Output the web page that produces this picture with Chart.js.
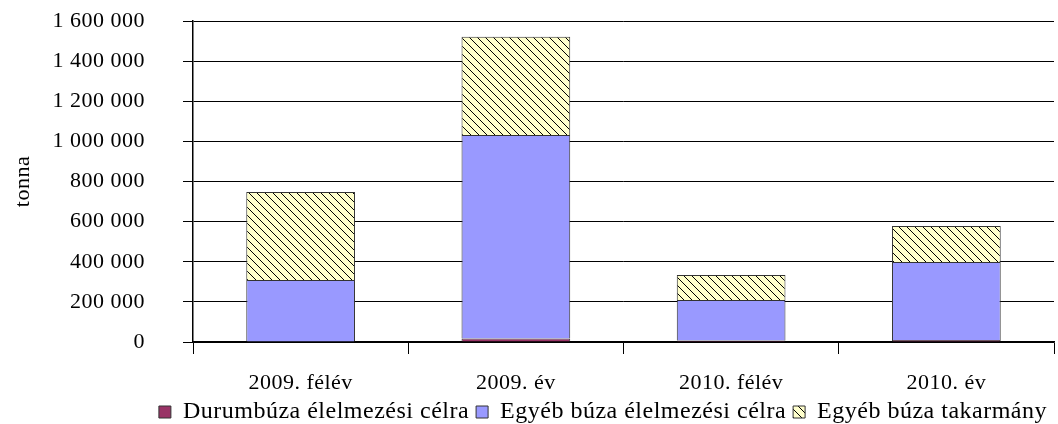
<!DOCTYPE html>
<html>
  <head>
    <meta charset="UTF-8" />
    <title>Búza</title>
    <script src="https://cdn.jsdelivr.net/npm/chart.js"></script>
    <style>
      body {
        margin: 0;
        background: #fff;
      }
      #wrap {
        width: 1058px;
        height: 424px;
      }
    </style>
  </head>
  <body>
    <div id="wrap"><canvas id="chart" width="1058" height="424"></canvas></div>
  </body>
  <script>
    const categories = ["2009. félév", "2009. év", "2010. félév", "2010. év"];
    const seriesNames = [
      "Durumbúza élelmezési célra",
      "Egyéb búza élelmezési célra",
      "Egyéb búza takarmány",
    ];
    const durum = [2000, 17000, 8000, 10000];
    const egyebElelmezes = [307000, 1015000, 201000, 389000];
    const egyebTakarmany = [439000, 489000, 125000, 179000];

    // diagonal hatch for the feed series
    function hatch() {
      const c = document.createElement("canvas");
      c.width = 8;
      c.height = 8;
      const g = c.getContext("2d");
      g.fillStyle = "#FFFFCC";
      g.fillRect(0, 0, 8, 8);
      g.strokeStyle = "#000";
      g.lineWidth = 1;
      g.beginPath();
      g.moveTo(-1, -1);
      g.lineTo(9, 9);
      g.stroke();
      return g.createPattern(c, "repeat");
    }

    const fmt = (v) => String(v).replace(/\B(?=(\d{3})+(?!\d))/g, " ");
    const font = { family: "'Liberation Serif', 'Times New Roman', serif", size: 22 };

    // the original serif runs wider, so space the letters a bit
    const spacing = {
      id: "spacing",
      beforeUpdate: (c) => {
        c.ctx.letterSpacing = "0.5px";
      },
      beforeDraw: (c) => {
        c.ctx.letterSpacing = "0.5px";
      },
    };

    new Chart(document.getElementById("chart"), {
      type: "bar",
      data: {
        labels: categories,
        datasets: [
          { label: seriesNames[0], data: durum, backgroundColor: "#993366" },
          { label: seriesNames[1], data: egyebElelmezes, backgroundColor: "#9999FF" },
          { label: seriesNames[2], data: egyebTakarmany, backgroundColor: hatch() },
        ].map((d) => ({
          ...d,
          borderColor: "#333",
          borderWidth: 1,
          categoryPercentage: 1,
          barPercentage: 0.505,
        })),
      },
      options: {
        responsive: false,
        animation: false,
        layout: { padding: { left: 6, right: 4, top: 21, bottom: -10 } },
        plugins: {
          tooltip: { enabled: false },
          legend: {
            position: "bottom",
            align: "end",
            labels: {
              color: "#000",
              font: { ...font, size: 24 },
              boxWidth: 12,
              boxHeight: 12,
              padding: 7,
            },
          },
        },
        scales: {
          x: {
            stacked: true,
            afterFit: (s) => {
              s.height = 51;
            },
            grid: {
              drawOnChartArea: false,
              tickLength: 12,
              tickColor: "#000",
            },
            border: { color: "#000", width: 1.5 },
            ticks: { color: "#000", font: font, padding: 16 },
          },
          y: {
            stacked: true,
            min: 0,
            max: 1600000,
            afterFit: (s) => {
              s.width = 187;
              s.paddingTop = 11;
            },
            grid: { color: "#000", tickLength: 10, tickColor: "#000" },
            border: { color: "#000", width: 1.5 },
            ticks: {
              stepSize: 200000,
              color: "#000",
              font: font,
              padding: 38,
              callback: (v) => fmt(v),
            },
            title: { display: true, text: "tonna", color: "#000", font: font },
          },
        },
      },
      plugins: [spacing],
    });
  </script>
</html>
